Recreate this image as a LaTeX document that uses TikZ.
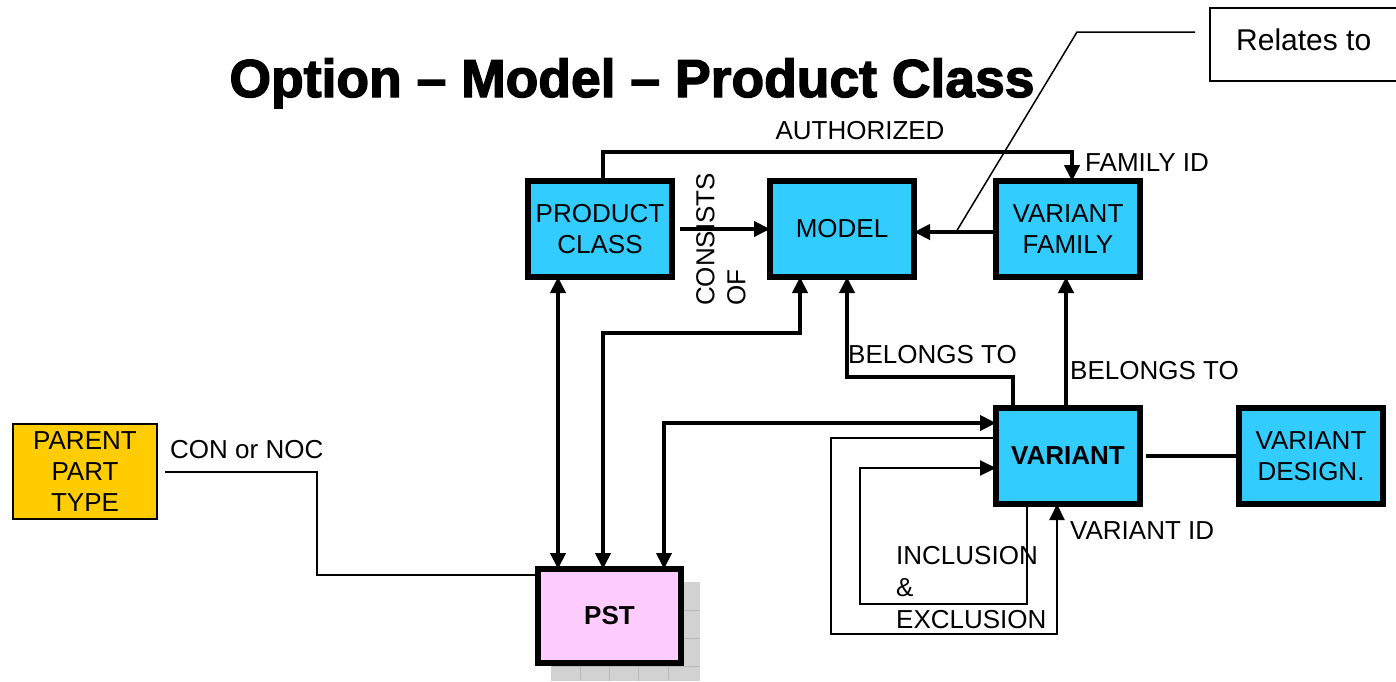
\documentclass[tikz,border=0pt]{standalone}
\usepackage{fontspec}
\setmainfont{Liberation Sans}
\newfontfamily\titlefont{Liberation Sans}[UprightFont={* Bold}, FakeBold=2.5, Ligatures=TeX]
\usetikzlibrary{arrows.meta}
\definecolor{entblue}{HTML}{33CCFF}
\definecolor{pstpink}{HTML}{FFCCFF}
\definecolor{pptyellow}{HTML}{FFCC00}
\tikzset{
  lblfont/.style={font={\fontsize{26}{31}\selectfont}},
  ent/.style={draw, line width=6pt, fill=entblue, minimum width=144pt, minimum height=96pt,
    inner sep=0pt, outer sep=0pt, align=center, lblfont},
  conn/.style={line width=4pt},
  tip/.tip={Triangle[length=16pt,width=15pt]},
  arr/.style={conn, -tip},
  dblarr/.style={conn, tip-tip},
  thinline/.style={line width=2pt},
  thinarr/.style={thinline, -tip},
  lab/.style={inner sep=0pt, lblfont},
}
\begin{document}
\begin{tikzpicture}[x=1pt,y=-1pt]
\useasboundingbox (0,0) rectangle (1396,681);

% title
\node[inner sep=0pt, anchor=base, font={\fontsize{53.5}{60}\selectfont\titlefont}] (title) at (632,97) {\resizebox{805pt}{!}{Option – Model – Product Class}};

% PST shadow
\fill[gray!35] (551,582) rectangle (700,681);
\foreach \gx in {580,609,638,668} \draw[gray!55, line width=0.8pt] (\gx,582) -- (\gx,681);
\foreach \gy in {610,638,666} \draw[gray!55, line width=0.8pt] (551,\gy) -- (700,\gy);

% entities
\node[ent] (pc) at (600,229) {PRODUCT\\CLASS};
\node[ent] (model) at (842,229) {MODEL};
\node[ent] (vf) at (1068,229) {VARIANT\\FAMILY};
\node[ent, font={\fontsize{26}{31}\selectfont\bfseries}] (var) at (1068,456) {VARIANT};
\node[ent] (vd) at (1311,456) {VARIANT\\DESIGN.};
\node[ent, fill=pstpink, minimum width=143pt, minimum height=94pt, font={\fontsize{26}{31}\selectfont\bfseries}] (pst) at (609.5,616) {PST};
\node[draw, line width=2pt, fill=pptyellow, minimum width=144pt, minimum height=95pt,
  inner sep=0pt, outer sep=0pt, align=center, lblfont] (ppt) at (85,471.5) {PARENT\\PART\\TYPE};

% relates to box (open at the right page edge)
\node[lab, anchor=west, font={\fontsize{30}{36}\selectfont}] (rel) at (1236,40) {Relates to};
\draw[thinline] (1396,8) -| (1210,81) -- (1396,81);

% coordinates for bends
\coordinate (a1) at (603,152);
\coordinate (a2) at (1072,152);
\coordinate (m1) at (603,333);
\coordinate (m2) at (800,333);
\coordinate (v1) at (664,423);
\coordinate (bm1) at (1013,377);
\coordinate (bm2) at (847,377);
\coordinate (bv) at (1066,377);
\coordinate (r1) at (956,232);
\coordinate (l1) at (1195,32);
\coordinate (l2) at (1077,32);
\coordinate (o1) at (831,438);
\coordinate (o2) at (1057,634);
\coordinate (i1) at (1027,604);
\coordinate (i2) at (860,468);
\coordinate (p1) at (317,575);
\coordinate (cpc) at (558,400);

% connectors
\draw[arr] (pc.north -| a1) -- (a1) -- (a2) -- (vf.north -| a2);
\draw[arr] ([xshift=8pt]pc.east) -- (model.west);
\draw[arr] (vf.west |- r1) -- (model.east |- r1);
\draw[thinline, line width=1.5pt] (l1) -- (l2) -- (r1);
\draw[dblarr] (pst.north -| cpc) -- (pc.south -| cpc);
\draw[dblarr] (pst.north -| m1) -- (m1) -- (m2) -- (model.south -| m2);
\draw[dblarr] (pst.north -| v1) -- (v1) -- (var.west |- v1);
\draw[arr] (var.north -| bm1) -- (bm1) -- (bm2) -- (model.south -| bm2);
\draw[arr] (var.north -| bv) -- (vf.south -| bv);
\draw[conn] ([xshift=6pt]var.east) -- (vd.west);
\draw[thinarr] (var.west |- o1) -- (o1) |- (o2) -- (var.south -| o2);
\draw[thinarr] (var.south -| i1) -- (i1) -| (i2) -- (var.west |- i2);
\draw[thinline] ([xshift=8pt]ppt.east) -| (p1) -- (pst.west |- p1);

% labels
\node[lab] (lauth) at (860,131) {AUTHORIZED};
\node[lab, anchor=west] (lfam) at (1085,163) {FAMILY ID};
\node[lab, rotate=90, anchor=north west, align=left] (lcons) at (696,306) {CONSISTS\\OF};
\node[lab, anchor=west] (lbm) at (848,355) {BELONGS TO};
\node[lab, anchor=west] (lbv) at (1070,371) {BELONGS TO};
\node[lab, anchor=west] (lvid) at (1070,531) {VARIANT ID};
\node[lab, anchor=west] (lcon) at (170,450) {CON or NOC};
\node[lab, anchor=west, align=left, font={\fontsize{26}{32}\selectfont}] (linc) at (896,588) {INCLUSION\\\&\\EXCLUSION};
\end{tikzpicture}
\end{document}
